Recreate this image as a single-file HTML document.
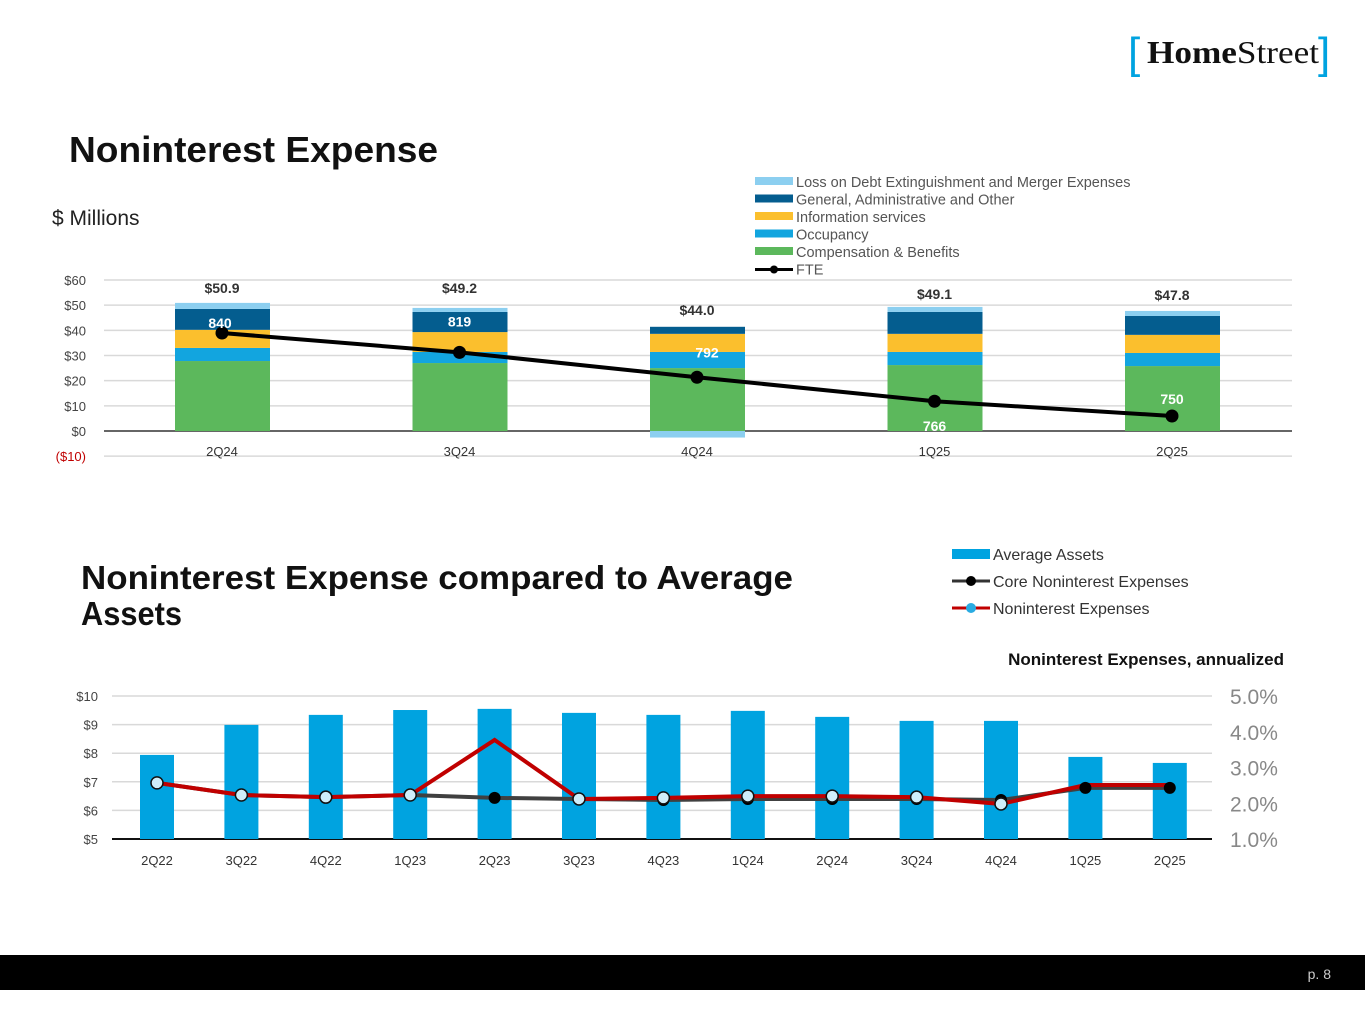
<!DOCTYPE html>
<html><head><meta charset="utf-8">
<style>
html,body{margin:0;padding:0;background:#fff;width:1365px;height:1024px;overflow:hidden}
svg{display:block;font-family:"Liberation Sans",sans-serif}
</style></head>
<body>
<svg id="root" width="1365" height="1024" viewBox="0 0 1365 1024">
  <g>
    <text x="1128" y="68" font-size="44" fill="#00a3e0" font-family="Liberation Sans">[</text>
    <text x="1147" y="63" font-size="32" fill="#111" font-family="Liberation Serif" textLength="172" lengthAdjust="spacingAndGlyphs"><tspan font-weight="bold">Home</tspan>Street</text>
    <text x="1318" y="68" font-size="44" fill="#00a3e0" font-family="Liberation Sans">]</text>
  </g>
  <text x="69" y="162" font-size="36" font-weight="bold" fill="#111" textLength="369" lengthAdjust="spacingAndGlyphs">Noninterest Expense</text>
  <text x="52" y="225" font-size="21" fill="#222">$ Millions</text>
  <g id="topChart"></g>
  <text x="81" y="589" font-size="33" font-weight="bold" fill="#111" textLength="712" lengthAdjust="spacingAndGlyphs">Noninterest Expense compared to Average</text>
  <text x="81" y="625" font-size="33" font-weight="bold" fill="#111" textLength="101" lengthAdjust="spacingAndGlyphs">Assets</text>
  <text x="1284" y="665" font-size="17" font-weight="bold" fill="#111" text-anchor="end">Noninterest Expenses, annualized</text>
  <g id="botChart"></g>
  <rect x="0" y="955" width="1365" height="35" fill="#000"/>
  <text x="1331" y="979" font-size="14" fill="#ccc" text-anchor="end">p. 8</text>
</svg>
<script>
const NS="http://www.w3.org/2000/svg";
function mk(p,t,a){const e=document.createElementNS(NS,t);for(const k in a)e.setAttribute(k,a[k]);p.appendChild(e);return e;}

// ---- Top chart data ----
const quarters=["2Q24","3Q24","4Q24","1Q25","2Q25"];
const comp=[27.8,27.0,25.0,26.2,25.8];
const occ=[5.2,4.4,6.4,5.2,5.2];
const info=[7.2,7.9,7.2,7.2,7.2];
const gaOther=[8.3,8.0,2.8,8.7,7.5];
const lossDebt=[2.4,1.6,-2.6,2.0,2.0];
const totals=["$50.9","$49.2","$44.0","$49.1","$47.8"];
const fte=[840,819,792,766,750];
const yTicks=[-10,0,10,20,30,40,50,60];

const topG=document.getElementById('topChart');
const ty=v=>431-v*2.517;
const tx=i=>222+i*237.5;
const fy=v=>333+(840-v)*0.922;
yTicks.forEach(v=>{
  const gl=mk(topG,'line',{x1:104,x2:1292,y1:ty(v),y2:ty(v),stroke:v===0?'#333':'#d9d9d9','stroke-width':1.5});
  
  
  const t=mk(topG,'text',{x:86,y:ty(v)+5,'font-size':13,'text-anchor':'end',fill:v<0?'#c00000':'#444'});
  t.textContent=v<0?'($'+(-v)+')':'$'+v;
  
  
});
const series=[[comp,'#5cb85c'],[occ,'#12a5df'],[info,'#fbbf2d'],[gaOther,'#045d8f'],[lossDebt,'#8ccff0']];
quarters.forEach((q,i)=>{
  let cum=0;
  series.forEach(([arr,c])=>{
    const v=arr[i];let y0,y1;
    if(v>=0){y0=ty(cum+v);y1=ty(cum);cum+=v;}else{y0=ty(0);y1=ty(v);}
    const r=mk(topG,'rect',{x:tx(i)-47,y:y0,width:95,height:y1-y0,fill:c});
    
    
  });
  const lt=mk(topG,'text',{x:tx(i),y:[293,293,315,299,300][i],'font-size':14,'font-weight':'bold','text-anchor':'middle',fill:'#333'});
  lt.textContent=totals[i];
  
  
  const xl=mk(topG,'text',{x:tx(i),y:456,'font-size':13,'text-anchor':'middle',fill:'#333'});
  xl.textContent=q;
  
  
});
const fl=mk(topG,'polyline',{points:fte.map((v,i)=>tx(i)+','+fy(v)).join(' '),fill:'none',stroke:'#000','stroke-width':4});


const fteLab=[[-2,-5],[0,-26],[10,-20],[0,30],[0,-12]];
fte.forEach((v,i)=>{
  const c=mk(topG,'circle',{cx:tx(i),cy:fy(v),r:6.5,fill:'#000'});
  
  
  const t=mk(topG,'text',{x:tx(i)+fteLab[i][0],y:fy(v)+fteLab[i][1],'font-size':14,'font-weight':'bold','text-anchor':'middle',fill:'#fff'});
  t.textContent=v;
  
  
});
const legTop=[['Loss on Debt Extinguishment and Merger Expenses','#8ccff0'],['General, Administrative and Other','#045d8f'],['Information services','#fbbf2d'],['Occupancy','#12a5df'],['Compensation & Benefits','#5cb85c'],['FTE',null]];
legTop.forEach(([n,c],k)=>{
  const y=182+k*17.5;
  const g=mk(topG,'g',{});
  
  
  if(c) mk(g,'rect',{x:755,y:y-5,width:38,height:8,fill:c});
  else{mk(g,'line',{x1:755,x2:793,y1:y,y2:y,stroke:'#000','stroke-width':3});mk(g,'circle',{cx:774,cy:y,r:4,fill:'#000'});}
  const t=mk(g,'text',{x:796,y:y+5,'font-size':14.5,fill:'#555'});t.textContent=n;
});

// ---- Bottom chart data ----
const bQuarters=["2Q22","3Q22","4Q22","1Q23","2Q23","3Q23","4Q23","1Q24","2Q24","3Q24","4Q24","1Q25","2Q25"];
const avgAssets=[7.94,8.99,9.34,9.51,9.55,9.41,9.34,9.48,9.27,9.13,9.13,7.87,7.66];
const coreExp=[2.57,2.23,2.17,2.23,2.15,2.12,2.09,2.12,2.12,2.12,2.09,2.43,2.43];
const nonintExp=[2.57,2.23,2.17,2.23,3.77,2.12,2.15,2.20,2.20,2.17,1.98,2.51,2.51];
const leftTicks=[5,6,7,8,9,10];
const rightTicks=[1,2,3,4,5];

const botG=document.getElementById('botChart');
const by=v=>839-(v-5)*28.6;
const ry=v=>839-(v-1)*35.75;
const bx=i=>157+i*84.4;
leftTicks.forEach(v=>{
  const gl=mk(botG,'line',{x1:112,x2:1212,y1:by(v),y2:by(v),stroke:v===5?'#111':'#d9d9d9','stroke-width':v===5?2:1.5});
  
  
  const t=mk(botG,'text',{x:98,y:by(v)+5,'font-size':13,'text-anchor':'end',fill:'#444'});
  t.textContent='$'+v;
  
  
});
rightTicks.forEach(v=>{
  const t=mk(botG,'text',{x:1230,y:ry(v)+8,'font-size':21,fill:'#888'});
  t.textContent=v.toFixed(1)+'%';
  
  
});
bQuarters.forEach((q,i)=>{
  const r=mk(botG,'rect',{x:bx(i)-17,y:by(avgAssets[i]),width:34,height:839-by(avgAssets[i]),fill:'#00a3e0'});
  
  
  const t=mk(botG,'text',{x:bx(i),y:865,'font-size':13,'text-anchor':'middle',fill:'#333'});
  t.textContent=q;
  
  
});
const cl=mk(botG,'polyline',{points:coreExp.map((v,i)=>bx(i)+','+ry(v)).join(' '),fill:'none',stroke:'#404040','stroke-width':4});


const nl=mk(botG,'polyline',{points:nonintExp.map((v,i)=>bx(i)+','+ry(v)).join(' '),fill:'none',stroke:'#c00000','stroke-width':4});


coreExp.forEach((v,i)=>{
  const c=mk(botG,'circle',{cx:bx(i),cy:ry(v),r:6,fill:'#000'});
  
  
});
nonintExp.forEach((v,i)=>{
  if(i===4||i>=11) return;
  const c=mk(botG,'circle',{cx:bx(i),cy:ry(v),r:6,fill:'#cfeefa',stroke:'#111','stroke-width':1.5});
  
  
});
const legBot=[['Average Assets','bar'],['Core Noninterest Expenses','#333'],['Noninterest Expenses','#c00000']];
legBot.forEach(([n,c],k)=>{
  const y=554+k*27;
  const g=mk(botG,'g',{});
  
  
  if(c==='bar') mk(g,'rect',{x:952,y:y-5,width:38,height:10,fill:'#00a3e0'});
  else{mk(g,'line',{x1:952,x2:990,y1:y,y2:y,stroke:c,'stroke-width':3});mk(g,'circle',{cx:971,cy:y,r:5,fill:k===1?'#000':'#29abe2'});}
  const t=mk(g,'text',{x:993,y:y+6,'font-size':16,fill:'#333'});t.textContent=n;
});
</script>
</body></html>
